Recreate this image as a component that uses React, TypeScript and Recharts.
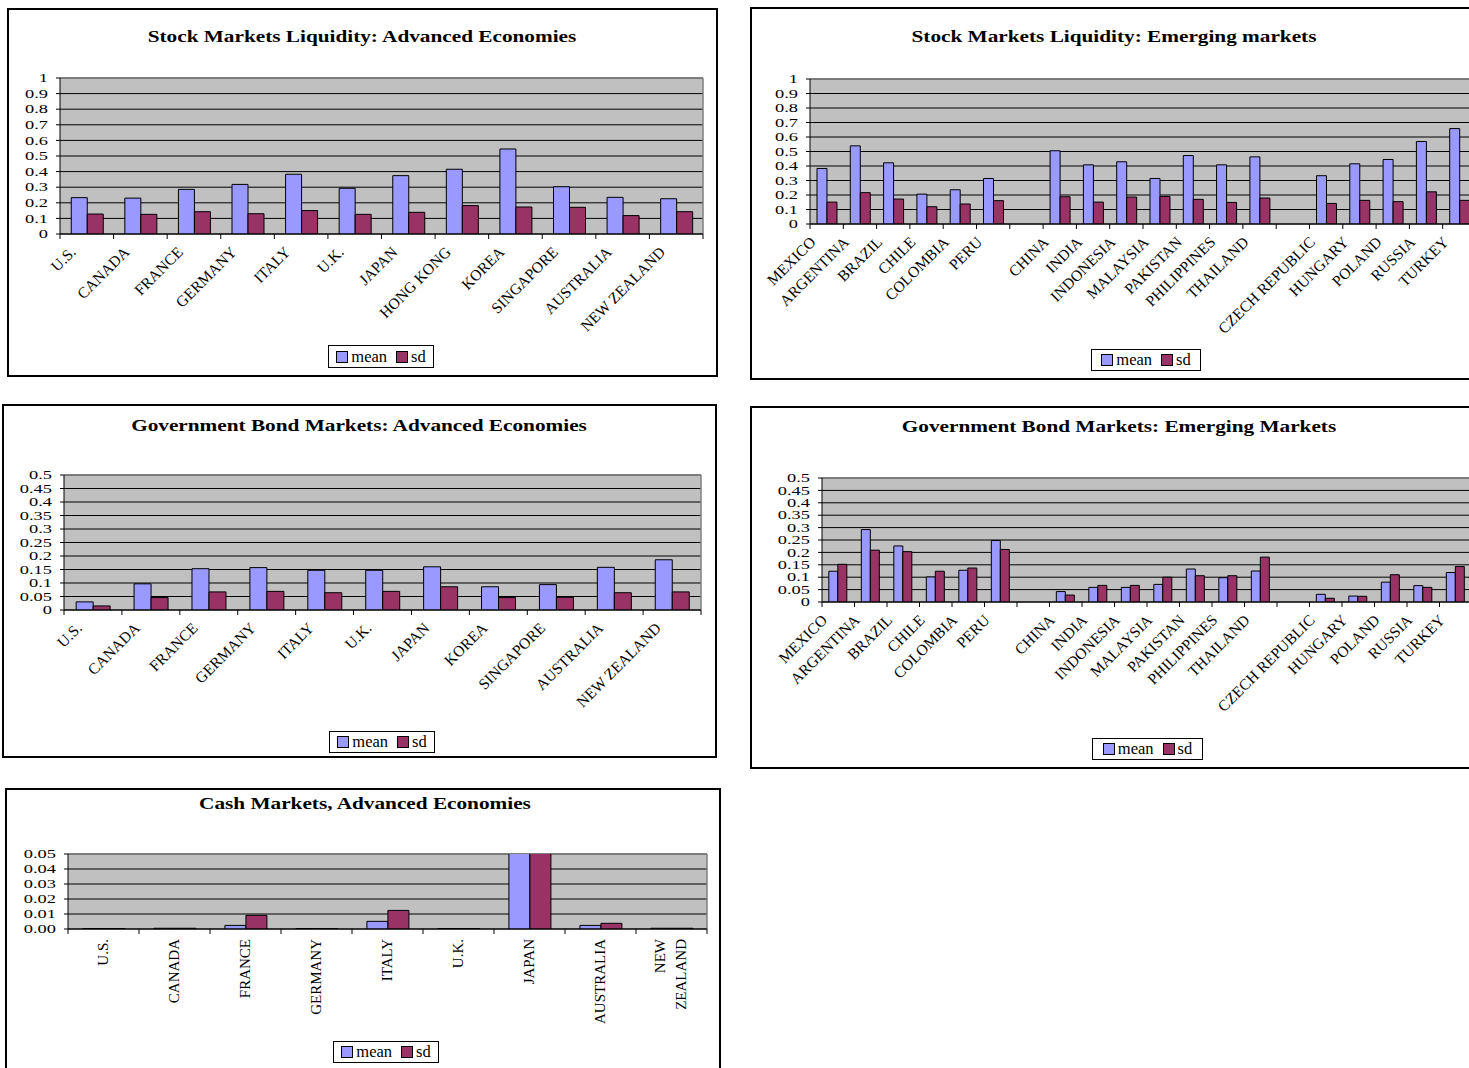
import React from "react";
import { BarChart, Bar, XAxis, YAxis, CartesianGrid } from "recharts";

const FONT = "'Liberation Serif', 'Times New Roman', serif";

const seriesNames = ["mean", "sd"];
const seriesColors = ["#9999FF", "#993366"];

const stockTicks = [0, 0.1, 0.2, 0.3, 0.4, 0.5, 0.6, 0.7, 0.8, 0.9, 1];
const bondTicks = [0, 0.05, 0.1, 0.15, 0.2, 0.25, 0.3, 0.35, 0.4, 0.45, 0.5];
const cashTicks = [0, 0.01, 0.02, 0.03, 0.04, 0.05];

// stock markets, advanced
const stockAdvCountries = ["U.S.", "CANADA", "FRANCE", "GERMANY", "ITALY", "U.K.", "JAPAN", "HONG KONG", "KOREA", "SINGAPORE", "AUSTRALIA", "NEW ZEALAND"];
const stockAdvMean = [0.233, 0.23, 0.286, 0.318, 0.383, 0.293, 0.374, 0.415, 0.545, 0.303, 0.235, 0.226];
const stockAdvSd = [0.128, 0.126, 0.143, 0.13, 0.15, 0.126, 0.139, 0.182, 0.173, 0.171, 0.118, 0.143];

// emerging markets (blank slots separate the regions)
const emergingCountries = ["MEXICO", "ARGENTINA", "BRAZIL", "CHILE", "COLOMBIA", "PERU", " ", "CHINA", "INDIA", "INDONESIA", "MALAYSIA", "PAKISTAN", "PHILIPPINES", "THAILAND", "  ", "CZECH REPUBLIC", "HUNGARY", "POLAND", "RUSSIA", "TURKEY"];
const stockEmMean = [0.383, 0.539, 0.422, 0.206, 0.236, 0.314, null, 0.505, 0.408, 0.429, 0.314, 0.472, 0.408, 0.463, null, 0.333, 0.415, 0.445, 0.569, 0.658];
const stockEmSd = [0.151, 0.216, 0.172, 0.119, 0.138, 0.161, null, 0.188, 0.151, 0.186, 0.19, 0.17, 0.149, 0.179, null, 0.142, 0.163, 0.154, 0.222, 0.163];

// government bonds, advanced
const bondAdvCountries = ["U.S.", "CANADA", "FRANCE", "GERMANY", "ITALY", "U.K.", "JAPAN", "KOREA", "SINGAPORE", "AUSTRALIA", "NEW ZEALAND"];
const bondAdvMean = [0.03, 0.097, 0.153, 0.157, 0.147, 0.147, 0.16, 0.086, 0.094, 0.158, 0.186];
const bondAdvSd = [0.015, 0.046, 0.067, 0.069, 0.064, 0.069, 0.086, 0.046, 0.047, 0.064, 0.067];

// government bonds, emerging
const bondEmMean = [0.124, 0.292, 0.226, 0.101, 0.128, 0.248, null, 0.042, 0.059, 0.059, 0.071, 0.133, 0.098, 0.125, null, 0.031, 0.024, 0.08, 0.066, 0.119];
const bondEmSd = [0.152, 0.209, 0.203, 0.124, 0.137, 0.212, null, 0.028, 0.067, 0.067, 0.1, 0.106, 0.106, 0.181, null, 0.015, 0.023, 0.11, 0.059, 0.143];

// cash markets (Japan runs off the top of the axis)
const cashCountries = ["U.S.", "CANADA", "FRANCE", "GERMANY", "ITALY", "U.K.", "JAPAN", "AUSTRALIA", "NEW ZEALAND"];
const cashMean = [0.0003, 0.0005, 0.0024, 0.0003, 0.0051, 0.0003, 0.06, 0.0024, 0.0005];
const cashSd = [0.0003, 0.0005, 0.0091, 0.0002, 0.0124, 0.0003, 0.06, 0.0038, 0.0005];

type Box = { left: number; top: number; right: number; bottom: number };

type PanelSpec = {
  title: string;
  frame: Box;
  titleX: number;
  titleY: number;
  plot: Box;
  categories: string[];
  mean: (number | null)[];
  sd: (number | null)[];
  ticks: number[];
  fixed?: number;
  vertical?: boolean;
  legend: Box;
};

const panels: PanelSpec[] = [
  {
    title: "Stock Markets Liquidity: Advanced Economies",
    frame: { left: 7, top: 8, right: 718, bottom: 377 },
    titleX: 362, titleY: 37,
    plot: { left: 60, top: 78, right: 703, bottom: 234 },
    categories: stockAdvCountries, mean: stockAdvMean, sd: stockAdvSd,
    ticks: stockTicks,
    legend: { left: 328, top: 345, right: 434, bottom: 368 },
  },
  {
    title: "Stock Markets Liquidity: Emerging markets",
    frame: { left: 750, top: 7, right: 1479, bottom: 380 },
    titleX: 1114, titleY: 37,
    plot: { left: 810, top: 79, right: 1476, bottom: 224 },
    categories: emergingCountries, mean: stockEmMean, sd: stockEmSd,
    ticks: stockTicks,
    legend: { left: 1091, top: 349, right: 1201, bottom: 371 },
  },
  {
    title: "Government Bond Markets: Advanced Economies",
    frame: { left: 2, top: 404, right: 717, bottom: 758 },
    titleX: 359, titleY: 426,
    plot: { left: 64, top: 475, right: 701, bottom: 610 },
    categories: bondAdvCountries, mean: bondAdvMean, sd: bondAdvSd,
    ticks: bondTicks,
    legend: { left: 329, top: 731, right: 435, bottom: 753 },
  },
  {
    title: "Government Bond Markets: Emerging Markets",
    frame: { left: 750, top: 406, right: 1479, bottom: 769 },
    titleX: 1119, titleY: 427,
    plot: { left: 822, top: 478, right: 1472, bottom: 602 },
    categories: emergingCountries, mean: bondEmMean, sd: bondEmSd,
    ticks: bondTicks,
    legend: { left: 1092, top: 738, right: 1203, bottom: 760 },
  },
  {
    title: "Cash Markets, Advanced Economies",
    frame: { left: 5, top: 788, right: 721, bottom: 1080 },
    titleX: 365, titleY: 804,
    plot: { left: 68, top: 854, right: 707, bottom: 929 },
    categories: cashCountries, mean: cashMean, sd: cashSd,
    ticks: cashTicks, fixed: 2, vertical: true,
    legend: { left: 333, top: 1041, right: 439, bottom: 1063 },
  },
];

function Panel({ spec }: { spec: PanelSpec }) {
  const { frame, plot } = spec;
  const n = spec.categories.length;
  const band = (plot.right - plot.left) / n;
  const rows = spec.categories.map((name, i) => ({ name, mean: spec.mean[i], sd: spec.sd[i] }));
  const mt = 10;
  const mr = 10;
  const xh = frame.bottom - plot.bottom - 4;
  const w = plot.right - frame.left + mr;
  const h = plot.bottom - plot.top + mt + xh;

  const yTick = (p: any) => {
    const v = p.payload.value;
    const label = spec.fixed != null ? v.toFixed(spec.fixed) : String(v);
    return (
      <text transform={`translate(${p.x},${p.y}) scale(1.6,1)`} textAnchor="end" dy="0.36em" fontSize={11.5} fontFamily={FONT} fill="#000">
        {label}
      </text>
    );
  };

  const xTick = (p: any) => {
    const { x, y, index } = p;
    const value: string = p.payload.value;
    let label;
    if (spec.vertical) {
      const lines = value.split(" ");
      const lh = 21;
      const bx = x + 4 - ((lines.length - 1) * lh) / 2;
      label = (
        <text transform={`translate(${bx},${y + 10}) rotate(-90)`} textAnchor="end" fontSize={15} fontFamily={FONT} fill="#000">
          {lines.map((l, i) => (
            <tspan key={i} x={0} dy={i === 0 ? 0 : lh}>{l}</tspan>
          ))}
        </text>
      );
    } else {
      label = (
        <text transform={`translate(${x - 10},${y + 19}) rotate(-45)`} textAnchor="end" fontSize={15.5} fontFamily={FONT} fill="#000">
          {value}
        </text>
      );
    }
    return (
      <g>
        <line x1={x - band / 2} y1={y} x2={x - band / 2} y2={y + 5} stroke="#000" />
        {index === n - 1 && <line x1={x + band / 2} y1={y} x2={x + band / 2} y2={y + 5} stroke="#000" />}
        {label}
      </g>
    );
  };

  const lg = spec.legend;

  return (
    <>
      <div
        style={{
          position: "absolute", left: frame.left, top: frame.top,
          width: frame.right - frame.left, height: frame.bottom - frame.top,
          border: "2px solid #000", boxSizing: "border-box",
        }}
      />
      <div
        style={{
          position: "absolute", left: spec.titleX - 400, width: 800, top: spec.titleY - 11,
          textAlign: "center", fontFamily: FONT, fontWeight: "bold", fontSize: 17,
          lineHeight: "22px", transform: "scaleX(1.25)",
        }}
      >
        {spec.title}
      </div>
      <div style={{ position: "absolute", left: frame.left, top: plot.top - mt }}>
        <BarChart
          width={w}
          height={h}
          data={rows}
          margin={{ top: mt, right: mr, bottom: 0, left: 0 }}
          barCategoryGap="21%"
          barGap={0}
          style={{ overflow: "visible" }}
        >
          <CartesianGrid vertical={false} stroke="#000" fill="#C0C0C0" fillOpacity={1} />
          <CartesianGrid
            horizontal
            vertical
            stroke="#808080"
            strokeWidth={1.5}
            horizontalCoordinatesGenerator={({ offset }: any) => [offset.top]}
            verticalCoordinatesGenerator={({ offset }: any) => [offset.left + offset.width]}
          />
          <XAxis
            dataKey="name"
            interval={0}
            height={xh}
            tickSize={0}
            tickMargin={0}
            tick={xTick}
            axisLine={{ stroke: "#000" }}
            tickLine={false}
          />
          <YAxis
            domain={[0, spec.ticks[spec.ticks.length - 1]]}
            ticks={spec.ticks}
            interval={0}
            allowDataOverflow
            width={plot.left - frame.left}
            tickSize={4}
            tickMargin={8}
            tick={yTick}
            axisLine={{ stroke: "#000" }}
            tickLine={{ stroke: "#000" }}
          />
          <Bar dataKey="mean" name={seriesNames[0]} fill={seriesColors[0]} stroke="#000" strokeWidth={1} isAnimationActive={false} />
          <Bar dataKey="sd" name={seriesNames[1]} fill={seriesColors[1]} stroke="#000" strokeWidth={1} isAnimationActive={false} />
        </BarChart>
      </div>
      <div
        style={{
          position: "absolute", left: lg.left, top: lg.top,
          width: lg.right - lg.left, height: lg.bottom - lg.top,
          border: "1px solid #000", background: "#fff", boxSizing: "border-box",
          display: "flex", alignItems: "center", justifyContent: "center",
          fontFamily: FONT, fontSize: 16.5,
        }}
      >
        {seriesNames.map((s, i) => (
          <span key={s} style={{ display: "flex", alignItems: "center", marginRight: i === 0 ? 9 : 0 }}>
            <span
              style={{
                display: "inline-block", width: 10, height: 10, border: "1px solid #000",
                background: seriesColors[i], marginRight: 3,
              }}
            />
            {s}
          </span>
        ))}
      </div>
    </>
  );
}

export default function App() {
  return (
    <div
      style={{
        position: "absolute", left: 0, top: 0, width: 1469, height: 1068,
        overflow: "hidden", background: "#fff",
      }}
    >
      {panels.map((p) => (
        <Panel key={p.title} spec={p} />
      ))}
    </div>
  );
}
